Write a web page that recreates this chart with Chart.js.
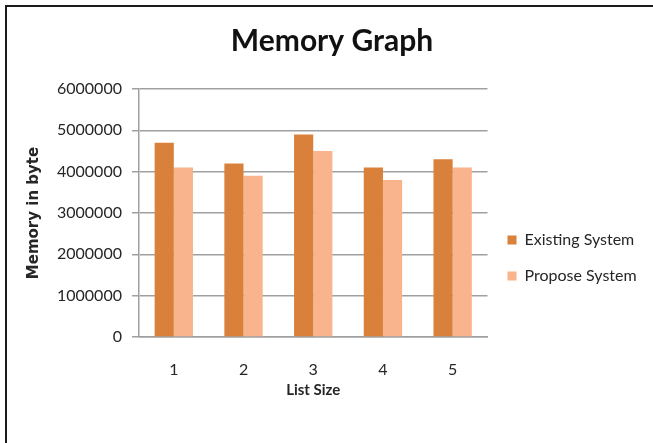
<!DOCTYPE html>
<html>
<head>
<meta charset="utf-8">
<script src="https://cdn.jsdelivr.net/npm/chart.js@4.4.1/dist/chart.umd.min.js"></script>
<style>
  html, body { margin: 0; padding: 0; background: #ffffff; }
  #frame {
    position: absolute; left: 5px; top: 5px;
    width: 648px; height: 438px;
    border-left: 2px solid #1a1a1a; border-top: 2px solid #1a1a1a;
    background: #ffffff;
  }
  #chart { display: block; }
</style>
</head>
<body>
<div id="frame"><canvas id="chart" width="646" height="436"></canvas></div>
<script>
// List sizes along the x axis
const listSizes = ['1', '2', '3', '4', '5'];
// Memory used (bytes) per list size
const existingSystem = [4700000, 4200000, 4900000, 4100000, 4300000];
const proposeSystem  = [4100000, 3900000, 4500000, 3800000, 4100000];
// Y axis range
const yMin = 0, yMax = 6000000, yStep = 1000000;

const textColor = '#262626';
const gridColor = '#a0a0a0';

new Chart(document.getElementById('chart'), {
  type: 'bar',
  data: {
    labels: listSizes,
    datasets: [
      { label: 'Existing System', data: existingSystem, backgroundColor: '#d9813b' },
      { label: 'Propose System',  data: proposeSystem,  backgroundColor: '#f9b38d' }
    ]
  },
  options: {
    responsive: false,
    animation: false,
    devicePixelRatio: 1,
    layout: { padding: { left: 14, right: 10, top: 0, bottom: 4 } },
    datasets: { bar: { categoryPercentage: 0.55, barPercentage: 1.0 } },
    plugins: {
      tooltip: { enabled: false },
      title: {
        display: true,
        text: 'Memory Graph',
        color: '#111111',
        font: { family: 'Lato', size: 30, weight: 'bold' },
        padding: { top: 16, bottom: 30 }
      },
      legend: {
        position: 'right',
        // empty title block only pushes the legend items down
        title: { display: true, text: '', font: { size: 12 }, padding: { top: 0, bottom: 55.6 } },
        labels: {
          color: textColor,
          font: { family: 'Lato', size: 16 },
          boxWidth: 9, boxHeight: 9,
          padding: 20
        }
      }
    },
    scales: {
      x: {
        grid: { display: false },
        border: { display: true, color: gridColor, width: 1.5 },
        ticks: { color: textColor, font: { family: 'Lato', size: 16 }, padding: 15 },
        title: {
          display: true, text: 'List Size', color: textColor,
          font: { family: 'Lato', size: 15, weight: 'bold' },
          padding: { top: -13.2, bottom: 40 }
        }
      },
      y: {
        min: yMin, max: yMax,
        ticks: {
          stepSize: yStep, color: textColor, font: { family: 'Lato', size: 16 }, padding: 10,
          callback: (v) => String(v)
        },
        grid: { color: gridColor, lineWidth: 1.5, tickLength: 7, drawTicks: true },
        border: { display: true, color: gridColor, width: 1.5 },
        title: {
          display: true, text: 'Memory in byte', color: textColor,
          font: { family: 'DejaVu Sans', size: 15, weight: 'bold' },
          padding: { top: 4, bottom: 4 }
        }
      }
    }
  }
});
</script>
</body>
</html>
